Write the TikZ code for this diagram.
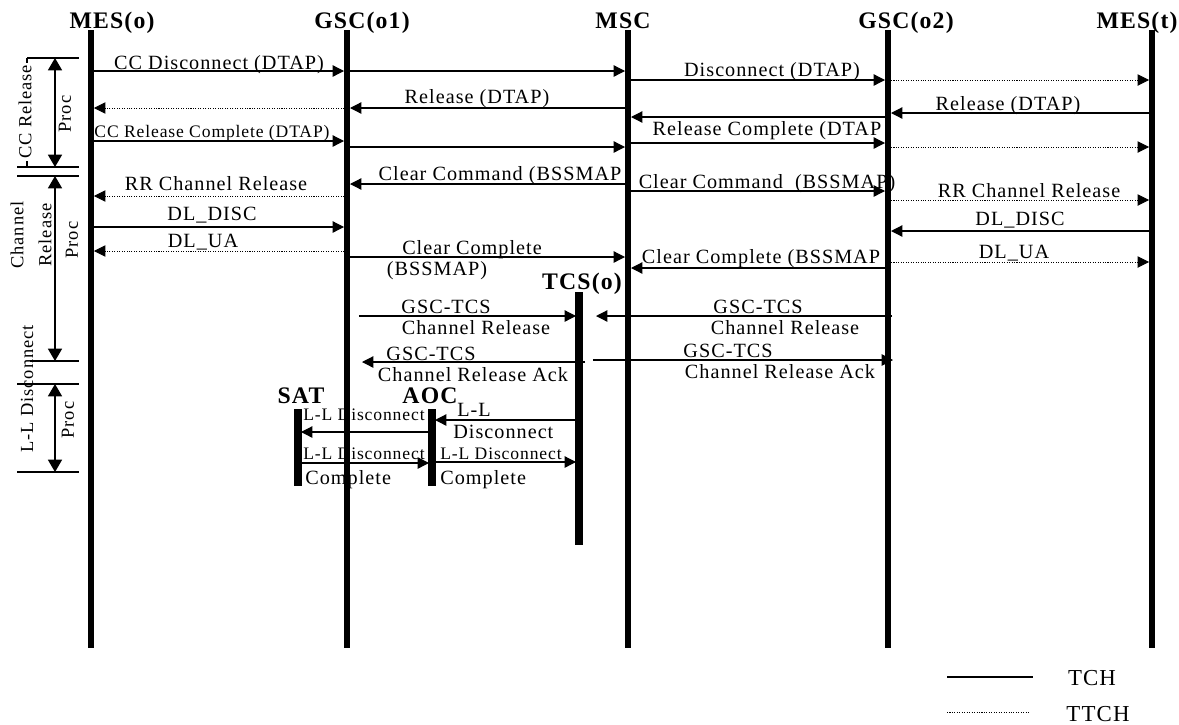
\documentclass[tikz,border=0pt]{standalone}
\usepackage{fontspec}
\setmainfont{Liberation Serif}[LetterSpace=5]
\usetikzlibrary{arrows.meta}

\begin{document}
\begin{tikzpicture}[x=0.02cm,y=-0.02cm,
 lbl/.style={font=\fontsize{11.5}{13}\selectfont,inner sep=0pt,anchor=base},
 slbl/.style={lbl,font=\fontsize{10}{11}\selectfont},
 rlbl/.style={lbl,font=\fontsize{10.5}{12}\selectfont,anchor=center,rotate=90},
 hdr/.style={font=\bfseries\fontsize{13.5}{15}\selectfont,inner sep=0pt,anchor=base},
 life/.style={line width=3.4pt},
 tch/.style={line width=0.7pt,-{Triangle[length=6.5pt,width=6.5pt]},shorten <=1.7pt,shorten >=1.7pt},
 ttch/.style={tch,line width=0.5pt,dash pattern=on 0.6pt off 0.8pt},
 procspan/.style={line width=0.7pt,{Triangle[length=7pt,width=8pt]}-{Triangle[length=7pt,width=8pt]}},
 sepline/.style={line width=0.6pt}]
\useasboundingbox (0,0) rectangle (1179,724);

% main lifelines
\foreach \n/\x/\h/\t in {mo/91/112/MES(o),g1/347/362/GSC(o1),msc/628/623/MSC,g2/888/906/GSC(o2),mt/1152/1137/MES(t)}{
  \node[hdr] (h\n) at (\h,28) {\t};
  \coordinate (\n) at (\x,30);
  \draw[life] (\n) -- (\n |- 0,648);
}
% short lifelines
\node[hdr] (htcs) at (582,289) {TCS(o)};
\node[hdr] (hsat) at (301,403) {SAT};
\node[hdr] (haoc) at (430,403) {AOC};
\coordinate (tcs) at (579,292);
\coordinate (sat) at (298,409);
\coordinate (aoc) at (432,409);
\draw[line width=4.5pt] (tcs) -- (tcs |- 0,545);
\draw[line width=4pt] (sat) -- (sat |- 0,486);
\draw[line width=4pt] (aoc) -- (aoc |- 0,486);

% TCH messages
\foreach \a/\b/\y in {mo/g1/71,g1/msc/71,msc/g2/80,msc/g1/108,mt/g2/113,g2/msc/117,
  mo/g1/141,g1/msc/147,msc/g2/143,msc/g1/184,msc/g2/191,mo/g1/227,mt/g2/231,
  g1/msc/257,g2/msc/268,tcs/aoc/420,aoc/sat/432,sat/aoc/463,aoc/tcs/462}
  \draw[tch] (\a |- 0,\y) -- (\b |- 0,\y);
% TTCH messages
\foreach \a/\b/\y in {g2/mt/80,g1/mo/108,g2/mt/147,g1/mo/196,g2/mt/200,g1/mo/251,g2/mt/262}
  \draw[ttch] (\a |- 0,\y) -- (\b |- 0,\y);

% GSC-TCS messages
\coordinate (s7) at (356,316);
\coordinate (r7) at (895,316);
\coordinate (e7) at (593,316);
\coordinate (s8) at (588,362);
\coordinate (e8) at (359,362);
\coordinate (t8) at (590,360);
\coordinate (u8) at (896,360);
\draw[tch] (s7) -- (tcs |- s7);
\draw[tch] (r7) -- (e7);
\draw[tch] (s8) -- (e8);
\draw[tch] (t8) -- (u8);

% message labels
\node[lbl] (l1) at (219,69) {CC Disconnect (DTAP)};
\node[lbl] (l2) at (772,76) {Disconnect (DTAP)};
\node[lbl] (l3) at (477,103) {Release (DTAP)};
\node[lbl] (l4) at (1008,110) {Release (DTAP)};
\node[slbl] (l5) at (212,137) {CC Release Complete (DTAP)};
\node[lbl] (l6) at (767,135) {Release Complete (DTAP};
\node[lbl] (l7) at (500,180) {Clear Command (BSSMAP};
\node[lbl] (l8) at (216,190) {RR Channel Release};
\node[lbl] (l9) at (767,188) {Clear Command\ \ (BSSMAP)};
\node[lbl] (l10) at (1029,197) {RR Channel Release};
\node[lbl] (l11) at (212,220) {DL\_DISC};
\node[lbl] (l12) at (1020,225) {DL\_DISC};
\node[lbl] (l13) at (203,247) {DL\_UA};
\node[lbl] (l14) at (472,254) {Clear Complete};
\node[lbl] (l15) at (437,275) {(BSSMAP)};
\node[lbl] (l16) at (761,263) {Clear Complete (BSSMAP};
\node[lbl] (l17) at (1014,258) {DL\_UA};
\node[lbl] (l18) at (446,313) {GSC-TCS};
\node[lbl] (l19) at (476,334) {Channel Release};
\node[lbl] (l20) at (758,313) {GSC-TCS};
\node[lbl] (l21) at (785,334) {Channel Release};
\node[lbl] (l22) at (431,360) {GSC-TCS};
\node[lbl] (l23) at (473,381) {Channel Release Ack};
\node[lbl] (l24) at (728,357) {GSC-TCS};
\node[lbl] (l25) at (780,378) {Channel Release Ack};
\node[lbl,anchor=base west] (l26) at (457,416) {L-L};
\node[lbl,anchor=base west] (l27) at (453,438) {Disconnect};
\node[slbl,anchor=base west] (l28) at (303,420) {L-L Disconnect};
\node[slbl,anchor=base west] (l29) at (303,459) {L-L Disconnect};
\node[lbl,anchor=base west] (l30) at (305,484) {Complete};
\node[slbl,anchor=base west] (l31) at (440,459) {L-L Disconnect};
\node[lbl,anchor=base west] (l32) at (440,484) {Complete};

% procedure brackets on the left
\draw[sepline] (27,58) -- (79,58);
\draw[sepline] (27,58) -- (27,167);
\foreach \y in {167,176,384,472} \draw[sepline] (17,\y) -- (79,\y);
\draw[sepline] (30,361) -- (79,361);
\coordinate (p1) at (55,58);  \coordinate (q1) at (55,167);
\coordinate (p2) at (55,176); \coordinate (q2) at (55,361);
\coordinate (p3) at (55,384); \coordinate (q3) at (55,472);
\foreach \p/\q in {p1/q1,p2/q2,p3/q3} \draw[procspan] (\p) -- (\q);
\node[rlbl,fill=white,inner sep=1pt] (ccrel) at (25,112) {CC Release};
\node[rlbl] (proc1) at (65,114) {Proc};
\node[rlbl] (chan) at (17,235) {Channel};
\node[rlbl] (chrel) at (45,235) {Release};
\node[rlbl] (proc2) at (72,240) {Proc};
\node[rlbl] (lldisc) at (27,389) {L-L Disconnect};
\node[rlbl] (proc3) at (68,420) {Proc};

% legend
\coordinate (k1) at (947,677);
\coordinate (k2) at (947,712);
\draw[line width=0.7pt] (k1) -- ++(86,0);
\draw[line width=0.5pt,dash pattern=on 0.6pt off 0.8pt] (k2) -- ++(83,0);
\node[lbl,font=\fontsize{13}{14}\selectfont] (ktch) at (1092,685) {TCH};
\node[lbl,font=\fontsize{13}{14}\selectfont] (kttch) at (1098,721) {TTCH};
\end{tikzpicture}
\end{document}
